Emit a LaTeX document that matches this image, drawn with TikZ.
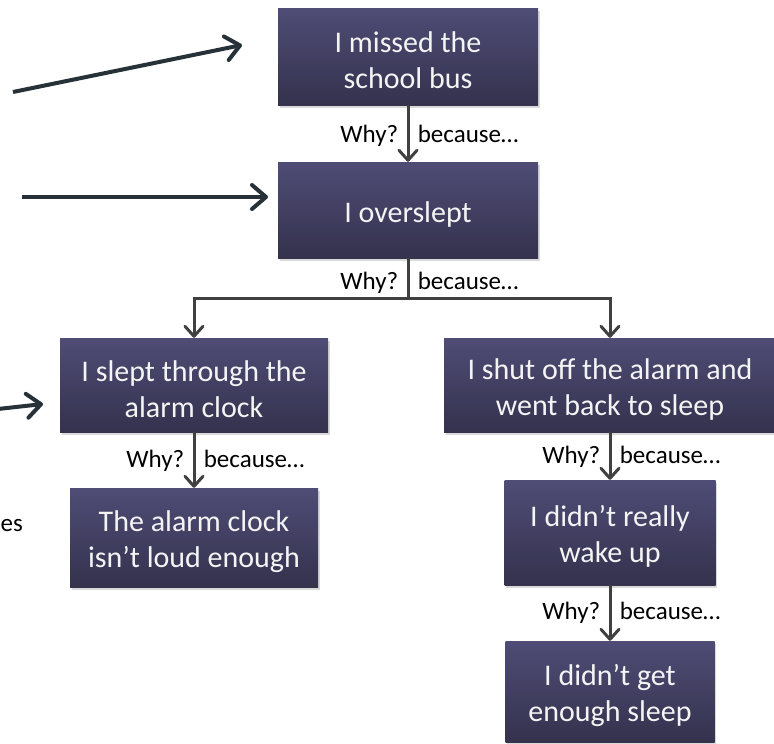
\documentclass[tikz,border=0pt]{standalone}
\usepackage{fontspec}
\setmainfont{Carlito}
\usetikzlibrary{arrows.meta,shadows}
\definecolor{boxtop}{HTML}{4F4C76}
\definecolor{boxbot}{HTML}{34324D}
\definecolor{connc}{HTML}{404040}
\definecolor{sidec}{HTML}{263238}
\definecolor{boxtext}{HTML}{F4F4F4}
\newcommand\whybec{\makebox[0pt][r]{Why?\hspace{7pt}} \makebox[0pt][l]{\hspace{7pt}because…}}
\newcommand\topstrut{\rule{0pt}{29pt}}
\tikzset{
  whybox/.style={rectangle, draw=none, top color=boxtop, bottom color=boxbot,
    text=boxtext, align=center, font=\fontsize{30}{36}\selectfont, inner sep=0pt,
    drop shadow={shadow xshift=1.5pt, shadow yshift=-3pt, opacity=0.3}},
  lbl/.style={font=\fontsize{25}{30}\selectfont, text=black, inner sep=0pt},
  connline/.style={draw=connc, line width=3pt},
  conn/.style={connline, -{Straight Barb[length=10pt,width=18pt,line cap=round,line join=round]}},
  sidearrow/.style={draw=sidec, line width=4pt, -{Straight Barb[length=14pt,width=24pt,line cap=round,line join=round]}}
}
\begin{document}
\begin{tikzpicture}[x=1pt,y=-1pt]
\useasboundingbox (0,0) rectangle (774,744);
\clip (0,0) rectangle (774,744);
% boxes
\node[whybox, minimum width=260pt, minimum height=97pt] (b1) at (408,56.5) {\topstrut I missed the\\school bus};
\node[whybox, minimum width=260pt, minimum height=96pt] (b2) at (408,210) {\topstrut I overslept};
\node[whybox, minimum width=268pt, minimum height=94pt] (b3) at (194,385) {\topstrut I slept through the\\alarm clock};
\node[whybox, minimum width=332pt, minimum height=94pt] (br) at (610,385) {\topstrut I shut off the alarm and\\went back to sleep};
\node[whybox, minimum width=248pt, minimum height=99pt] (b4) at (194,537.5) {\topstrut The alarm clock\\isn’t loud enough};
\node[whybox, minimum width=211pt, minimum height=105pt] (b5) at (610,532.5) {\topstrut I didn’t really\\wake up};
\node[whybox, minimum width=209pt, minimum height=101pt] (b6) at (610,691.5) {\topstrut I didn’t get\\enough sleep};
% labels
\node[lbl] (w1) at (408,136) {\whybec};
\node[lbl] (w2) at (408,283) {\whybec};
\node[lbl] (w3) at (194,461) {\whybec};
\node[lbl] (w4) at (610,457) {\whybec};
\node[lbl] (w5) at (610,613) {\whybec};
\node[lbl, anchor=west] (es) at (0.5,526) {es};
% connectors
\coordinate (split) at (408,298);
\draw[conn] (b1.south) -- (b2.north);
\draw[connline] (b2.south) -- (split);
\draw[conn] (split) -| (b3.north);
\draw[conn] (split) -| (br.north);
\draw[conn] (b3.south) -- (b4.north);
\draw[conn] (br.south) -- (b5.north);
\draw[conn] (b5.south) -- (b6.north);
% side arrows
\coordinate (s1) at (13,92);
\coordinate (s2) at (22,197);
\coordinate (s3) at (-2,409);
\coordinate (t1) at (242,45);
\coordinate (t2) at (268,197);
\coordinate (t3) at (43,404);
\draw[sidearrow] (s1) -- (t1);
\draw[sidearrow] (s2) -- (t2);
\draw[sidearrow] (s3) -- (t3);
\end{tikzpicture}
\end{document}
